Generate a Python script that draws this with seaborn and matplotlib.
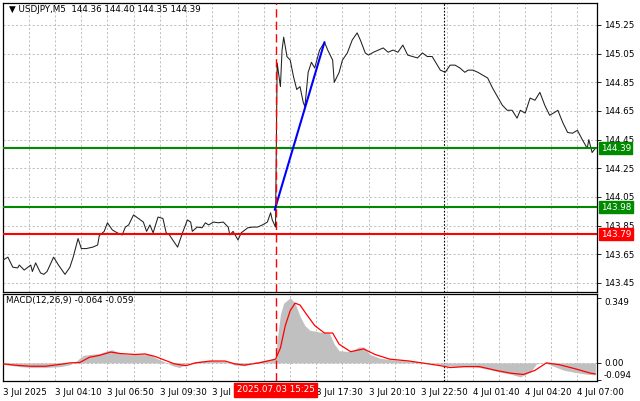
import numpy as np
import pandas as pd
import matplotlib
matplotlib.use("Agg")
import matplotlib.pyplot as plt
import matplotlib.transforms as mtrans
import seaborn as sns

# ---------------- data ----------------
title_text = "\u25bc USDJPY,M5  144.36 144.40 144.35 144.39"
macd_text = "MACD(12,26,9) -0.064 -0.059"

price_bar = [0, 3, 6, 9, 10, 13, 17, 18, 20, 23, 25, 27, 31, 34, 38, 41, 43, 46, 48, 51,
             55, 58, 59, 62, 64, 67, 70, 73, 75, 77, 80, 83, 86, 88, 90, 92, 95, 98, 100, 102,
             104, 107, 110, 113, 115, 116, 119, 122, 124, 126, 129, 132, 135, 138, 139, 141, 144, 146, 150, 153,
             156, 159, 162, 164, 165, 167, 168, 170, 171, 172, 174, 176, 178, 180, 182, 184, 185, 187, 189, 191,
             194, 197, 199, 202, 203, 206, 208, 211, 214, 217, 219, 222, 224, 227, 230, 233, 236, 239, 242, 245,
             248, 251, 254, 257, 260, 263, 268, 271, 274, 277, 280, 283, 285, 288, 291, 294, 297, 300, 303, 306,
             309, 312, 315, 317, 320, 323, 326, 329, 332, 335, 338, 340, 343, 346, 349, 352, 355, 358, 359, 361, 363]
price_val = [143.61, 143.63, 143.56, 143.555, 143.575, 143.54, 143.575, 143.53, 143.59, 143.52,
             143.51, 143.53, 143.63, 143.575, 143.51, 143.56, 143.63, 143.76, 143.69, 143.69,
             143.70, 143.715, 143.78, 143.81, 143.87, 143.82, 143.80, 143.785, 143.84, 143.855,
             143.925, 143.90, 143.875, 143.81, 143.855, 143.80, 143.91, 143.90, 143.80, 143.785,
             143.75, 143.70, 143.80, 143.89, 143.875, 143.81, 143.84, 143.835, 143.87, 143.855,
             143.875, 143.87, 143.875, 143.84, 143.785, 143.81, 143.75, 143.80, 143.835, 143.84,
             143.84, 143.855, 143.875, 143.94, 143.89, 143.84, 144.985, 144.82, 145.075, 145.165,
             145.03, 145.005, 144.89, 144.80, 144.82, 144.71, 144.68, 144.92, 144.99, 144.95,
             145.075, 145.13, 145.075, 145.005, 144.85, 144.92, 145.005, 145.055, 145.145, 145.195,
             145.145, 145.055, 145.04, 145.06, 145.075, 145.09, 145.06, 145.075, 145.06, 145.11,
             145.04, 145.03, 145.02, 145.055, 145.03, 145.03, 144.935, 144.92, 144.97, 144.97,
             144.95, 144.92, 144.935, 144.935, 144.92, 144.90, 144.88, 144.81, 144.75, 144.69,
             144.655, 144.655, 144.60, 144.655, 144.635, 144.74, 144.725, 144.78, 144.69, 144.62,
             144.64, 144.655, 144.57, 144.50, 144.495, 144.515, 144.45, 144.39, 144.45, 144.36, 144.39]

hist_bar = [0, 4, 10, 18, 25, 35, 41, 45, 49, 53, 59, 64, 67, 72, 78, 84, 90, 94, 99, 104,
            108, 113, 118, 127, 136, 142, 148, 154, 161, 167, 168, 170, 172, 176, 179, 182, 185, 188, 194, 200,
            203, 206, 213, 218, 221, 225, 231, 240, 249, 262, 271, 280, 289, 298, 305, 311, 317, 323, 327, 332,
            338, 344, 350, 357, 363]
hist_val = [-0.008, -0.012, -0.02, -0.025, -0.025, -0.02, -0.01, 0.01, 0.04, 0.045,
            0.05, 0.065, 0.07, 0.05, 0.045, 0.048, 0.045, 0.025, 0.005, -0.015,
            -0.025, -0.005, 0.008, 0.012, 0.008, -0.012, -0.015, 0.005, 0.015, 0.02,
            0.12, 0.26, 0.32, 0.349, 0.32, 0.25, 0.20, 0.175, 0.165, 0.16,
            0.10, 0.065, 0.06, 0.085, 0.085, 0.045, 0.025, 0.015, 0.01, 0.0,
            -0.015, -0.02, -0.02, -0.035, -0.05, -0.06, -0.075, -0.05, -0.005, 0.0,
            -0.02, -0.04, -0.05, -0.06, -0.064]

sig_bar = [0, 7, 17, 26, 35, 41, 47, 53, 59, 66, 72, 81, 87, 93, 99, 105, 112, 118, 127, 136,
           142, 148, 157, 167, 170, 173, 176, 179, 182, 186, 191, 197, 202, 206, 213, 221, 228, 237, 249, 268,
           274, 283, 292, 302, 311, 319, 326, 333, 341, 350, 360, 363]
sig_val = [-0.005, -0.012, -0.018, -0.018, -0.008, 0.0, 0.002, 0.03, 0.04, 0.058,
           0.05, 0.045, 0.048, 0.035, 0.015, -0.005, -0.015, 0.0, 0.01, 0.01,
           -0.005, -0.012, 0.0, 0.02, 0.08, 0.20, 0.28, 0.32, 0.31, 0.26,
           0.20, 0.16, 0.16, 0.10, 0.06, 0.075, 0.045, 0.02, 0.01, -0.015,
           -0.025, -0.02, -0.02, -0.04, -0.055, -0.062, -0.04, 0.0, -0.01, -0.03,
           -0.055, -0.059]

levels = [144.39, 143.98, 143.79]
level_kind = ["target", "entry", "stop"]
trend_bar = [166.5, 197]
trend_val = [143.96, 145.13]

price_ticks = [145.25, 145.05, 144.85, 144.65, 144.45, 144.25, 144.05, 143.85, 143.65, 143.45]
macd_ticks = [0.349, 0.0, -0.094]
time_label_bars = [0, 32, 64, 96, 128, 192, 224, 256, 288, 320, 352]
time_labels = ["3 Jul 2025", "3 Jul 04:10", "3 Jul 06:50", "3 Jul 09:30", "3 Jul 12:10",
               "3 Jul 17:30", "3 Jul 20:10", "3 Jul 22:50", "4 Jul 01:40", "4 Jul 04:20", "4 Jul 07:00"]
event_bar = 167
event_label = "2025.07.03 15:25"
day_sep_bar = 270

# ---------------- style ----------------
sns.set_style("white")
plt.rcParams['font.family'] = ['DejaVu Sans']
FS = 6.3
GREEN = "#008a00"
RED = "#ff0000"
GRID = "#b4b4b4"

W, H = 640, 401
fig = plt.figure(figsize=(W / 100, H / 100), dpi=100)
fig.patch.set_facecolor("white")

def rect(x0, y0, x1, y1):
    return [x0 / W, 1 - y1 / H, (x1 - x0) / W, (y1 - y0) / H]

ax = fig.add_axes(rect(3, 3, 597, 292))
ax2 = fig.add_axes(rect(3, 294, 597, 381), sharex=ax)

XMAX = 364
ax.set_xlim(0, XMAX)
ax.set_ylim(143.387, 145.4035)
ax2.set_ylim(-0.094 - 0.003, 0.349 + 0.02)

# grid
for a in (ax, ax2):
    for b in range(16, XMAX, 16):
        a.axvline(b, color=GRID, lw=0.6, ls=(0, (2.5, 2.5)), zorder=0)
for t in price_ticks:
    ax.axhline(t, color=GRID, lw=0.6, ls=(0, (2.5, 2.5)), zorder=0)
ax2.axhline(0, color=GRID, lw=0.6, ls=(0, (2.5, 2.5)), zorder=0)

# price line
dfp = pd.DataFrame({"bar": price_bar, "price": price_val})
sns.lineplot(data=dfp, x="bar", y="price", ax=ax, color="#202020", lw=0.75, zorder=3, legend=False)

# levels
lvl_color = {"target": GREEN, "entry": GREEN, "stop": RED}
for v, k in zip(levels, level_kind):
    ax.axhline(v, color=lvl_color[k], lw=1.5, zorder=4)

# trend line
dft = pd.DataFrame({"bar": trend_bar, "price": trend_val})
sns.lineplot(data=dft, x="bar", y="price", ax=ax, color="#0000ff", lw=1.5, zorder=5, legend=False)

# event & day separator
for a in (ax, ax2):
    a.axvline(event_bar, color=RED, lw=1.0, ls=(0, (6, 3)), zorder=6)
    a.axvline(day_sep_bar, color="black", lw=0.8, ls=(0, (1.5, 1.5)), zorder=2)

# MACD
ax2.fill_between(hist_bar, 0, hist_val, color="#c0c0c0", lw=0, zorder=2)
dfs = pd.DataFrame({"bar": sig_bar, "sig": sig_val})
sns.lineplot(data=dfs, x="bar", y="sig", ax=ax2, color=RED, lw=0.9, zorder=4, legend=False)

# axes styling
for a in (ax, ax2):
    a.set_xlabel("")
    a.set_ylabel("")
    for s in a.spines.values():
        s.set_color("black")
        s.set_linewidth(0.9)
    a.yaxis.tick_right()
    a.tick_params(axis="y", direction="out", length=3, width=0.6, pad=2, labelsize=FS, colors="black")

ax.set_yticks(price_ticks)
ax.set_yticklabels([f"{t:.2f}" for t in price_ticks])
ax.tick_params(axis="x", bottom=False, labelbottom=False)

ax2.set_yticks(macd_ticks)
ax2.set_yticklabels(["0.349", "0.00", "-0.094"])
ylab = ax2.get_yticklabels()
ylab[0].set_va("top")
ylab[2].set_va("bottom")

ax2.set_xticks(time_label_bars)
ax2.set_xticklabels(time_labels, ha="left")
ax2.tick_params(axis="x", direction="out", length=3, width=0.6, pad=2, labelsize=FS, colors="black")
for lab in ax2.get_xticklabels():
    lab.set_x(0)
offset = mtrans.offset_copy(ax2.transData, fig=fig, x=-1.5, y=0, units="points")

# level value boxes on the price axis
tr = mtrans.blended_transform_factory(ax.transAxes, ax.transData)
for v, k in zip(levels, level_kind):
    ax.text(1.006, v, f"{v:.2f}", transform=tr, ha="left", va="center", fontsize=FS,
            color="white", zorder=10, clip_on=False,
            bbox=dict(boxstyle="square,pad=0.18", fc=lvl_color[k], ec=lvl_color[k]))

# title and MACD label
ax.text(6 / 594, 1 - 6 / 289, title_text, transform=ax.transAxes, ha="left", va="center",
        fontsize=FS, color="black", zorder=10)
ax2.text(3 / 594, 1 - 6 / 87, macd_text, transform=ax2.transAxes, ha="left", va="center",
         fontsize=FS, color="black", zorder=10)

# event time box on the time axis
trx = mtrans.blended_transform_factory(ax2.transData, fig.transFigure)
fig.text(event_bar, 1 - 390 / H, event_label, transform=trx, ha="center", va="center",
         fontsize=FS, color="white", zorder=20,
         bbox=dict(boxstyle="square,pad=0.25", fc=RED, ec=RED))

fig.savefig("out.png", dpi=100, facecolor="white")
